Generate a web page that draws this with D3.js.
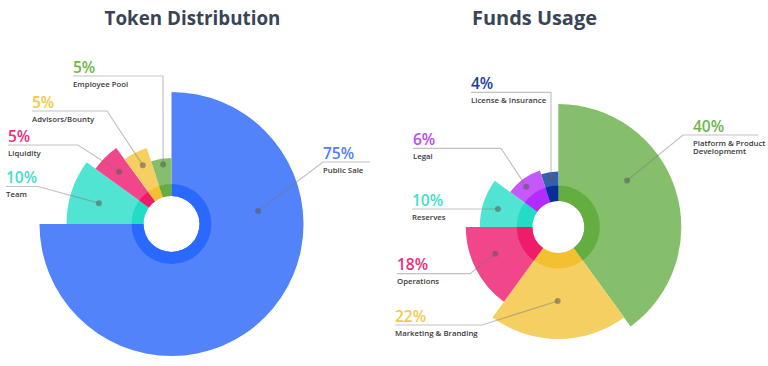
<!DOCTYPE html>
<html><head><meta charset="utf-8">
<script src="https://cdn.jsdelivr.net/npm/d3@7"></script>
<style>body{margin:0;background:#fff}svg{display:block}</style>
</head><body>
<svg id="chart" width="768" height="366"></svg>
<script>
// ---------- DATA ----------
const tokenCategories = ["Public Sale", "Team", "Liquidity", "Advisors/Bounty", "Employee Pool"];
const tokenValues = [75, 10, 5, 5, 5];
const tokenLabels = ["75%", "10%", "5%", "5%", "5%"];

const fundsCategories = ["Platform & Product\nDevelopmemt", "Marketing & Branding", "Operations", "Reserves", "Legal", "License & Insurance"];
// slice sizes as drawn in the picture (angles measured)
const fundsValues = [40, 20, 15, 10, 10, 5];
const fundsLabels = ["40%", "22%", "18%", "10%", "6%", "4%"];

// ---------- STYLE / LAYOUT ----------
const tokenStyle = {
  center: [171.5, 224], hole: 28, ring: 40,
  outer: [132, 105, 94, 80, 66],
  light: ["#5283fa", "#52e4d2", "#f2468a", "#f6cf63", "#86bf6c"],
  dark:  ["#2a69ff", "#22dcc6", "#ee1c69", "#f3c032", "#64ae41"],
  text:  ["#4f80fa", "#3fe0cb", "#ee2e79", "#f5c94a", "#6db64c"],
  dot: [[81.5, 87.5], [286, 75.5], [315, 74], [334, 65.5], [352, 60]],
  ann: [
    {side: "r", x: 323, y: 162, end: 370, tx: 323},
    {side: "l", x: 6, y: 186.5, bend: 38},
    {side: "l", x: 8, y: 145, bend: 78},
    {side: "l", x: 32, y: 111, bend: 107},
    {side: "l", x: 73, y: 76, bend: 163}
  ]
};
const fundsStyle = {
  center: [558.3, 227], hole: 26, ring: 41.5,
  outer: [123, 112, 92.5, 78.5, 59.5, 55.5],
  light: ["#86bf6c", "#f6cf63", "#f2468a", "#52e4d2", "#c558fb", "#3360b0"],
  dark:  ["#64ae41", "#f3c032", "#ee1c69", "#22dcc6", "#b22cff", "#062f98"],
  text:  ["#6db64c", "#f5c94a", "#ee2e79", "#3fe0cb", "#b84af5", "#1a3d9c"],
  dot: [[56, 83], [180.5, 74], [247, 68.5], [286.6, 63], [321.5, 51.5], [351.5, 49]],
  ann: [
    {side: "r", x: 683, y: 135, end: 758, tx: 693},
    {side: "l", x: 395, y: 325, bend: 482},
    {side: "l", x: 397, y: 273.7, bend: 470},
    {side: "l", x: 412, y: 209, bend: null},
    {side: "l", x: 413, y: 148.3, bend: 501},
    {side: "l", x: 471, y: 92.3, bend: 551}
  ]
};

const svg = d3.select("#chart");
const pctFont = "'Open Sans', sans-serif";

function fitTitle(text, cx, baseline, width) {
  const t = svg.append("text").text(text)
    .attr("x", cx).attr("y", baseline).attr("text-anchor", "middle")
    .attr("font-family", "'Open Sans', sans-serif").attr("font-weight", 700)
    .attr("fill", "#384557").attr("font-size", 20);
  const w = t.node().getComputedTextLength();
  t.attr("font-size", 20 * width / w);
}
fitTitle("Token Distribution", 192.5, 25, 176);
fitTitle("Funds Usage", 534.5, 25, 125);

function drawChart(cats, values, labels, st) {
  const g = svg.append("g").attr("transform", `translate(${st.center[0]},${st.center[1]})`);
  const pie = d3.pie().sort(null).value(d => d).startAngle(0).endAngle(2 * Math.PI);
  const arcs = pie(values);
  g.selectAll("path.outer").data(arcs).join("path").attr("class", "outer")
    .attr("d", (d, i) => d3.arc().innerRadius(st.hole).outerRadius(st.outer[i])(d))
    .attr("fill", (d, i) => st.light[i]);
  g.selectAll("path.ring").data(arcs).join("path").attr("class", "ring")
    .attr("d", d3.arc().innerRadius(st.hole).outerRadius(st.ring))
    .attr("fill", (d, i) => st.dark[i]);

  const rad = a => a * Math.PI / 180;
  arcs.forEach((d, i) => {
    const [ang, r] = st.dot[i];
    const dx = st.center[0] + r * Math.sin(rad(ang));
    const dy = st.center[1] - r * Math.cos(rad(ang));
    const a = st.ann[i];
    let pts;
    if (a.side === "r") pts = [[dx, dy], [a.x, a.y], [a.end, a.y]];
    else if (a.bend == null) pts = [[dx, dy], [a.x, a.y]];
    else pts = [[dx, dy], [a.bend, a.y], [a.x, a.y]];
    svg.append("path").attr("d", d3.line()(pts))
      .attr("fill", "none").attr("stroke", "rgba(120,120,120,0.45)").attr("stroke-width", 1.2);
    svg.append("circle").attr("cx", dx).attr("cy", dy).attr("r", 3)
      .attr("fill", "rgba(90,90,90,0.55)");
    const tx = a.side === "r" ? a.tx : a.x;
    svg.append("text").text(labels[i]).attr("x", tx).attr("y", a.y - 3.5)
      .attr("font-family", pctFont).attr("font-size", 15.5).attr("font-weight", 600)
      .attr("fill", st.text[i]);
    const lines = cats[i].split("\n");
    lines.forEach((ln, k) => {
      svg.append("text").text(ln).attr("x", tx).attr("y", a.y + 10.5 + k * 8.5)
        .attr("font-family", pctFont).attr("font-size", 7.8).attr("font-weight", 600)
        .attr("fill", "#3a3a3a");
    });
  });
}
drawChart(tokenCategories, tokenValues, tokenLabels, tokenStyle);
drawChart(fundsCategories, fundsValues, fundsLabels, fundsStyle);
</script>
</body></html>
